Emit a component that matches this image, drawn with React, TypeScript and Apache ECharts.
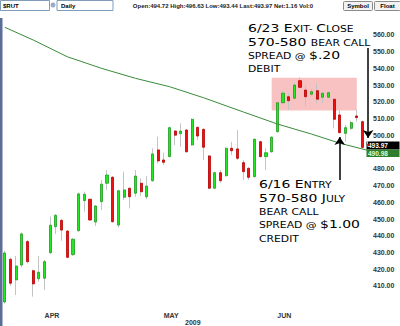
import React, { useEffect, useRef } from "react";
import * as echarts from "echarts";

const dates = [
  "2009-03-23","2009-03-24","2009-03-25","2009-03-26","2009-03-27","2009-03-30","2009-03-31",
  "2009-04-01","2009-04-02","2009-04-03","2009-04-06","2009-04-07","2009-04-08","2009-04-09","2009-04-13","2009-04-14","2009-04-15","2009-04-16","2009-04-17","2009-04-20","2009-04-21","2009-04-22","2009-04-23","2009-04-24","2009-04-27","2009-04-28","2009-04-29","2009-04-30",
  "2009-05-01","2009-05-04","2009-05-05","2009-05-06","2009-05-07","2009-05-08","2009-05-11","2009-05-12","2009-05-13","2009-05-14","2009-05-15","2009-05-18","2009-05-19","2009-05-20","2009-05-21","2009-05-22","2009-05-26","2009-05-27","2009-05-28","2009-05-29",
  "2009-06-01","2009-06-02","2009-06-03","2009-06-04","2009-06-05","2009-06-08","2009-06-09","2009-06-10","2009-06-11","2009-06-12","2009-06-15","2009-06-16","2009-06-17","2009-06-18","2009-06-19","2009-06-22","2009-06-23",
];

const opens = [400.4,425.9,413.6,422.5,436.5,419.1,414.3,414.6,429.9,445.4,449.2,442.8,428.7,443,461,461.8,448.2,460.4,471.4,475,446.4,463,468.4,465.4,471.4,463.3,472.9,491.3,485.3,487.3,502.6,501,503.2,494.3,504.8,503.6,487.7,468.4,477.7,475.9,492.3,491.9,483.7,480.3,475.3,496.2,487.3,490.2,502.2,519.5,523.1,522.2,532.7,527.1,524.6,526.7,522.8,522.8,521.6,512.2,501.2,504.2,511.6,508.2,494.72];
const closes = [429.7,411.6,421.9,441.1,424.5,411.2,418.2,424.5,446.3,452.2,443.4,427.1,437.9,465,464.8,449.4,457.8,470.8,476.3,448.4,466.9,467.4,463.3,475.7,466.3,469.7,488.9,484.7,483.9,504.6,500.1,502.6,490.2,509.6,499.6,492.9,468.4,477.7,472.9,492.3,490.8,486.3,478.3,474.9,497.7,487.3,489.6,498.9,519.5,525.2,520.7,530.1,528.7,523.1,526.1,521.6,525.2,525.5,509.6,501.6,504.6,507.6,510.6,492.81,493.97];
const lows = [399.5,410,404.6,421,423.5,403.6,412.5,407.6,429,441.1,437,426.5,428,442.5,454.4,449,445.8,455.4,467.4,447.8,445,461.4,456.4,463.3,463.8,461.8,472.3,483.3,482.3,486.8,494.2,493.2,489.6,493.8,497.2,485.3,467.8,467.8,471.5,475.3,488.3,485.3,473.3,473.3,474.8,486.8,479.3,489.6,501.6,519,515.2,521.6,528.3,517.1,523.5,519.2,519.2,522.3,504.2,501.2,496.2,503.2,508.2,492.3,493.44];
const highs = [431,427,427.9,442,437.5,419.8,427.9,425.5,451.4,453,450,443.5,438.5,465.8,466.3,462.3,458.3,473.3,479.3,475.6,467.4,478.3,468.8,479.3,474.3,475.7,492.3,499.2,489.6,505.2,503.2,507.2,503.8,510.2,505.2,504.2,488.2,478.3,479.3,492.8,496.2,503.2,485.3,481,498.2,496.8,492.3,499.5,520,527,525.2,531.1,534.7,530.1,527.7,531.1,525.6,526,522,514.8,506.2,508.8,515.6,508.8,496.63];

// moving average read at selected sessions (null = not read, line connects)
const maReadIdx = [0, 5, 11, 17, 23, 29, 35, 42, 48, 54, 59, 64];
const maReadVal = [564.6, 557.0, 547.0, 540.1, 534.1, 529.1, 522.5, 514.0, 506.8, 500.8, 495.3, 490.98];

// 490.00 is hidden behind the price boxes in the reference
const yTicks = [560, 550, 540, 530, 520, 510, 500, 480, 470, 460, 450, 440, 430, 420, 410];
const monthNames: Record<string, string> = { "04": "APR", "05": "MAY", "06": "JUN" };
const yearLabel = "2009";

const quote = { open: "494.72", high: "496.63", low: "493.44", last: 493.97, net: "1.16", vol: "0" };
const maLastLabel = "490.98";

const shadeFromIdx = 47;
const shadeToIdx = 62;
const shadeTop = 534.5;
const shadeBottom = 514.8;

const exitIdx = 64;
const exitArrowFrom = 552.2;
const exitArrowTo = 498.5;
const entryIdx = 59;
const entryArrowFrom = 473.3;
const entryArrowTo = 499.0;

const exitNote = "{b|6/23 E}{s|XIT- }{b|C}{s|LOSE}\n{b|570-580 }{s|BEAR CALL}\n{s|SPREAD @ }{b|$.20}\n{s|DEBIT}";
const entryNote = "{b|6/16 E}{s|NTRY}\n{b|570-580 J}{s|ULY}\n{s|BEAR CALL}\n{s|SPREAD @ }{b|$1.00}\n{s|CREDIT}";

const Y_MIN = 398.0;
const Y_MAX = 572.55;

export default function App() {
  const ref = useRef<HTMLDivElement>(null);
  useEffect(() => {
    const el = ref.current!;
    const chart = echarts.init(el, null, { renderer: "svg" });
    const wickData = dates.map((_, i) => [opens[i], closes[i], lows[i], highs[i]]);
    const bodyData = dates.map((_, i) => [
      opens[i], closes[i], Math.min(opens[i], closes[i]), Math.max(opens[i], closes[i]),
    ]);
    const maData: (number | null)[] = dates.map(() => null);
    maReadIdx.forEach((idx, k) => { maData[idx] = maReadVal[k]; });
    const monthStart = new Set<number>();
    dates.forEach((d, i) => {
      if (i > 0 && d.slice(5, 7) !== dates[i - 1].slice(5, 7)) monthStart.add(i);
    });
    const axisFont = { fontSize: 7, fontWeight: "bold", color: "#333", fontFamily: "Liberation Sans" };

    chart.setOption({
      animation: false,
      backgroundColor: "#ffffff",
      grid: { left: 2, right: 29, top: 14, bottom: 20, containLabel: false },
      xAxis: {
        type: "category",
        data: dates,
        boundaryGap: true,
        axisLine: { show: false },
        axisTick: { show: false },
        splitLine: { show: false },
        axisLabel: {
          ...axisFont,
          interval: (i: number) => monthStart.has(i),
          formatter: (v: string) => monthNames[v.slice(5, 7)] || "",
          align: "left",
          margin: 6,
        },
      },
      yAxis: {
        type: "value",
        position: "right",
        min: Y_MIN,
        max: Y_MAX,
        axisLine: { show: false },
        axisTick: { show: false },
        splitLine: { show: false },
        axisLabel: {
          ...axisFont,
          customValues: yTicks,
          formatter: (v: number) => v.toFixed(2),
          margin: 2,
        },
      },
      series: [
        {
          type: "candlestick",
          name: "wick",
          data: wickData,
          barWidth: 1,
          z: 2,
          itemStyle: { color: "#c4c4c4", color0: "#c4c4c4", borderColor: "#c4c4c4", borderColor0: "#c4c4c4", borderWidth: 1 },
          markArea: {
            silent: true,
            itemStyle: { color: "#f9c2c2" },
            data: [[
              { xAxis: dates[shadeFromIdx], yAxis: shadeTop },
              { xAxis: dates[shadeToIdx], yAxis: shadeBottom },
            ]],
          },
        },
        {
          type: "candlestick",
          name: "body",
          data: bodyData,
          barWidth: 2.6,
          z: 3,
          itemStyle: { color: "#22e822", color0: "#f01010", borderColor: "#1c9c1c", borderColor0: "#b80000", borderWidth: 0.8 },
        },
        {
          type: "line",
          name: "MA",
          data: maData,
          connectNulls: true,
          symbol: "none",
          z: 4,
          lineStyle: { color: "#3b8a3b", width: 1 },
          markLine: {
            silent: true,
            symbol: ["none", "arrow"],
            symbolSize: 8,
            label: { show: false },
            lineStyle: { color: "#000", width: 1.5, type: "solid" },
            data: [
              [{ coord: [dates[exitIdx], exitArrowFrom] }, { coord: [dates[exitIdx], exitArrowTo] }],
              [{ coord: [dates[entryIdx], entryArrowFrom] }, { coord: [dates[entryIdx], entryArrowTo] }],
            ],
          },
        },
      ],
    });

    const yLast = chart.convertToPixel({ yAxisIndex: 0 }, quote.last) as number;
    const boxFont = "bold 6.5px 'Liberation Sans'";
    const toolFont = "bold 6px 'Liberation Sans'";
    const rich = {
      b: { fontSize: 11, fontFamily: "DejaVu Sans", fill: "#000", lineHeight: 13.4, verticalAlign: "bottom" },
      s: { fontSize: 8.5, fontFamily: "DejaVu Sans", fill: "#000", lineHeight: 13.4, verticalAlign: "bottom" },
    };
    chart.setOption({
      graphic: [
        { type: "rect", shape: { x: 0, y: 18, width: 2.5, height: 308 }, style: { fill: "#5d6d99" } },
        { type: "rect", shape: { x: 0.5, y: 0.5, width: 49, height: 10 }, style: { fill: "#fff", stroke: "#7f9db9", lineWidth: 1 } },
        { type: "text", x: 3, y: 5.5, style: { text: "$RUT", font: toolFont, fill: "#000", verticalAlign: "middle" } },
        { type: "circle", shape: { cx: 53, cy: 5, r: 2.5 }, style: { fill: "#9aaac8" } },
        { type: "rect", shape: { x: 57, y: 0.5, width: 56, height: 10 }, style: { fill: "#fff", stroke: "#7f9db9", lineWidth: 1 } },
        { type: "text", x: 61, y: 5.5, style: { text: "Daily", font: toolFont, fill: "#000", verticalAlign: "middle" } },
        {
          type: "text", x: 223, y: 5.5,
          style: {
            text: `Open:${quote.open} High:${quote.high} Low:${quote.low} Last:${quote.last.toFixed(2)} Net:${quote.net} Vol:${quote.vol}`,
            font: toolFont, fill: "#222", align: "center", verticalAlign: "middle",
          },
        },
        { type: "rect", shape: { x: 343.5, y: 1.5, width: 29, height: 9, r: 1 }, style: { fill: "#f2f2f2", stroke: "#8a8a8a", lineWidth: 1 } },
        { type: "text", x: 358, y: 6, style: { text: "Symbol", font: toolFont, fill: "#000", align: "center", verticalAlign: "middle" } },
        { type: "rect", shape: { x: 374.5, y: 1.5, width: 26, height: 9, r: 1 }, style: { fill: "#f2f2f2", stroke: "#8a8a8a", lineWidth: 1 } },
        { type: "text", x: 387.5, y: 6, style: { text: "Float", font: toolFont, fill: "#000", align: "center", verticalAlign: "middle" } },
        { type: "text", x: 248, y: 20.3, scaleX: 1.27, style: { text: exitNote, rich, align: "left", verticalAlign: "top" } },
        { type: "text", x: 259, y: 176.3, scaleX: 1.27, style: { text: entryNote, rich, align: "left", verticalAlign: "top" } },
        { type: "rect", shape: { x: 366.5, y: yLast - 4, width: 33, height: 8 }, style: { fill: "#000" } },
        { type: "text", x: 368, y: yLast, style: { text: quote.last.toFixed(2), font: boxFont, fill: "#fff", verticalAlign: "middle" } },
        { type: "rect", shape: { x: 366.5, y: yLast + 4, width: 33, height: 7.5 }, style: { fill: "#2f7d2f" } },
        { type: "text", x: 368, y: yLast + 7.9, style: { text: maLastLabel, font: boxFont, fill: "#d8ffd8", verticalAlign: "middle" } },
        { type: "text", x: 185, y: 322.5, style: { text: yearLabel, font: "bold 7px 'Liberation Sans'", fill: "#333", verticalAlign: "middle" } },
      ],
    });
    return () => chart.dispose();
  }, []);
  return (
    <div style={{ position: "fixed", left: 0, top: 0, width: 400, height: 326, background: "#fff" }}>
      <div ref={ref} style={{ width: 400, height: 326 }} />
    </div>
  );
}
